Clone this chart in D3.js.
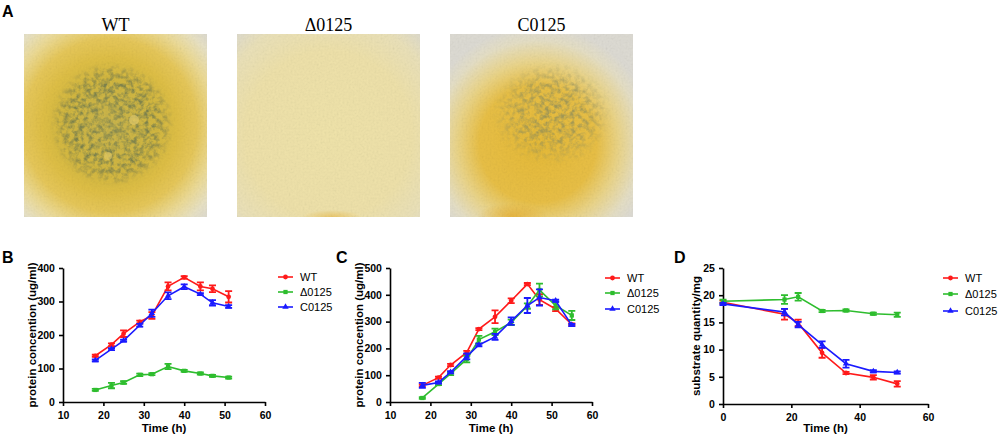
<!DOCTYPE html>
<html>
<head>
<meta charset="utf-8">
<script src="https://cdn.jsdelivr.net/npm/d3@7"></script>
<style>
  body { margin: 0; background: #fff; }
  svg { display: block; }
</style>
</head>
<body>
<script>
const width = 1000, height = 439;

// ---- data ----
const strains = ["WT", "\u03940125", "C0125"];
const colors = ["#ff1a1a", "#2ebd2e", "#1a1aff"];

// panel B
const timeB = [18, 22, 25, 29, 32, 36, 40, 44, 47, 51];
const wtB  = [138, 171, 204, 239, 258, 345, 372, 345, 338, 314];
const wtBErr = [3, 4, 10, 4, 10, 12, 4, 12, 10, 17];
const delB = [36, 49, 58, 81, 83, 106, 93, 85, 78, 73];
const delBErr = [3, 8, 4, 4, 3, 8, 3, 3, 3, 3];
const cB   = [124, 158, 183, 229, 265, 317, 344, 322, 296, 285];
const cBErr = [3, 3, 3, 4, 11, 10, 7, 3, 8, 4];

// panel C
const timeC = [18, 22, 25, 29, 32, 36, 40, 44, 47, 51, 55];
const wtC  = [62, 91, 138, 185, 272, 318, 378, 440, 382, 347, 289];
const wtCErr = [4, 4, 4, 6, 4, 24, 9, 4, 20, 8, 4];
const delC = [15, 67, 106, 160, 233, 262, 297, 358, 418, 360, 323];
const delCErr = [3, 4, 6, 12, 14, 12, 10, 10, 24, 14, 17];
const cC   = [62, 73, 111, 170, 213, 243, 302, 360, 390, 378, 287];
const cCErr = [9, 4, 4, 11, 5, 11, 14, 28, 30, 4, 4];

// panel D
const timeD = [0, 18, 22, 29, 36, 44, 51];
const wtD  = [18.7, 16.5, 14.9, 9.4, 5.7, 4.9, 3.7];
const wtDErr = [0.3, 1.0, 0.6, 0.9, 0.2, 0.4, 0.5];
const delD = [18.9, 19.2, 19.7, 17.1, 17.2, 16.6, 16.4];
const delDErr = [0.3, 0.8, 0.7, 0.2, 0.2, 0.2, 0.4];
const cD   = [18.4, 16.9, 14.6, 10.9, 7.4, 6.0, 5.8];
const cDErr = [0.2, 0.6, 0.5, 0.6, 0.7, 0.2, 0.2];

const svg = d3.select("body").append("svg")
    .attr("width", width).attr("height", height)
    .attr("viewBox", [0, 0, width, height]);

const defs = svg.append("defs");

// ---- panel A: the three plate photos, painted with gradients + noise ----
function radial(id, cx, cy, r, stops) {
  const g = defs.append("radialGradient").attr("id", id)
      .attr("cx", cx).attr("cy", cy).attr("r", r);
  stops.forEach(s => g.append("stop").attr("offset", s[0]).attr("stop-color", s[1])
      .attr("stop-opacity", s[2] == null ? 1 : s[2]));
}

radial("gWT", "47%", "50%", "74%", [
  [0, "#c9b54c"], [0.35, "#d3b840"], [0.5, "#e0c046"], [0.64, "#e7c85a"],
  [0.78, "#eddc98"], [0.9, "#e9e3c6"], [1, "#dcdad2"]]);
radial("gDel", "50%", "55%", "75%", [
  [0, "#f0e4aa"], [0.6, "#efe2aa"], [0.85, "#ebe2ba"], [1, "#dfdcce"]]);
radial("gC", "48%", "60%", "64%", [
  [0, "#e7bb38"], [0.5, "#e9c046"], [0.7, "#ebd68c"], [0.88, "#e6e0c6"], [1, "#dedcd4"]]);
radial("gDarkWT", "50%", "50%", "50%", [
  [0, "#7a8252", 0.75], [0.65, "#6f7a4e", 0.85], [0.85, "#767a4c", 0.5], [1, "#767a4c", 0]]);
radial("gDarkC", "50%", "50%", "50%", [
  [0, "#7b8462", 0.7], [0.6, "#7b8462", 0.5], [1, "#7b8462", 0]]);
radial("gSpot", "50%", "50%", "50%", [
  [0, "#e6a820", 0.9], [1, "#e6a820", 0]]);

const speckle = defs.append("filter").attr("id", "speckle")
    .attr("x", 0).attr("y", 0).attr("width", 1).attr("height", 1);
speckle.append("feTurbulence").attr("type", "fractalNoise")
    .attr("baseFrequency", 0.2).attr("numOctaves", 3).attr("seed", 5).attr("result", "n");
speckle.append("feColorMatrix").attr("in", "n").attr("type", "matrix")
    .attr("values", "0 0 0 0 0  0 0 0 0 0  0 0 0 0 0  2.6 0 0 0 -1.0").attr("result", "m");
speckle.append("feComposite").attr("in", "SourceGraphic").attr("in2", "m").attr("operator", "in");

const grain = defs.append("filter").attr("id", "grain")
    .attr("x", 0).attr("y", 0).attr("width", 1).attr("height", 1);
grain.append("feTurbulence").attr("type", "fractalNoise")
    .attr("baseFrequency", 0.5).attr("numOctaves", 2).attr("seed", 2);
grain.append("feColorMatrix").attr("type", "saturate").attr("values", 0);

const photoLabels = ["WT", "\u03940125", "C0125"];
const photoX = [24, 237, 450];
const photoFill = ["gWT", "gDel", "gC"];
const photoSize = 183, photoY = 34;

photoX.forEach((px, i) => {
  const g = svg.append("g").attr("transform", `translate(${px},${photoY})`);
  const clipId = "clip" + i;
  defs.append("clipPath").attr("id", clipId)
    .append("rect").attr("width", photoSize).attr("height", photoSize);
  const inner = g.append("g").attr("clip-path", `url(#${clipId})`);
  inner.append("rect").attr("width", photoSize).attr("height", photoSize)
      .attr("fill", `url(#${photoFill[i]})`);
  if (i === 0) {
    inner.append("ellipse").attr("cx", 88).attr("cy", 90).attr("rx", 62).attr("ry", 62)
        .attr("fill", "url(#gDarkWT)").attr("filter", "url(#speckle)");
    inner.append("circle").attr("cx", 110).attr("cy", 86).attr("r", 5).attr("fill", "#e8cf6a").attr("opacity", 0.7);
    inner.append("circle").attr("cx", 84).attr("cy", 122).attr("r", 4).attr("fill", "#e8cf6a").attr("opacity", 0.6);
  } else if (i === 1) {
    inner.append("ellipse").attr("cx", 95).attr("cy", 183).attr("rx", 30).attr("ry", 7)
        .attr("fill", "url(#gSpot)").attr("opacity", 0.5);
  } else {
    inner.append("ellipse").attr("cx", 102).attr("cy", 80).attr("rx", 60).attr("ry", 52)
        .attr("fill", "url(#gDarkC)").attr("filter", "url(#speckle)");
    inner.append("ellipse").attr("cx", 62).attr("cy", 182).attr("rx", 35).attr("ry", 13)
        .attr("fill", "url(#gSpot)").attr("opacity", 0.7);
  }
  inner.append("rect").attr("width", photoSize).attr("height", photoSize)
      .attr("filter", "url(#grain)").attr("opacity", 0.16)
      .style("mix-blend-mode", "multiply");

  svg.append("text").attr("x", px + photoSize / 2).attr("y", 31)
      .attr("text-anchor", "middle")
      .style("font-family", "'Liberation Serif', 'DejaVu Serif', serif")
      .style("font-size", "18px")
      .text(photoLabels[i]);
});

function panelLetter(t, x, y) {
  svg.append("text").attr("x", x).attr("y", y)
      .style("font-family", "'Liberation Sans', Arial, sans-serif")
      .style("font-weight", "bold").style("font-size", "16px")
      .text(t);
}
panelLetter("A", 2, 17);
panelLetter("B", 2, 263);
panelLetter("C", 336, 263);
panelLetter("D", 674, 263);

// ---- line panels B, C, D ----
function drawPanel(o) {
  const x = d3.scaleLinear().domain(o.xDomain).range(o.xRange);
  const y = d3.scaleLinear().domain(o.yDomain).range(o.yRange);
  const g = svg.append("g");

  const xAxis = g.append("g").attr("transform", `translate(0,${o.yRange[0]})`)
      .call(d3.axisBottom(x).tickValues(o.xTicks).tickSize(4).tickSizeOuter(0));
  const yAxis = g.append("g").attr("transform", `translate(${o.xRange[0]},0)`)
      .call(d3.axisLeft(y).tickValues(o.yTicks).tickSize(4).tickSizeOuter(0));
  [xAxis, yAxis].forEach(a => {
    a.selectAll("path, line").attr("stroke", "#000").attr("stroke-width", 1.6);
    a.selectAll("text").attr("fill", "#000")
        .style("font-family", "'Liberation Sans', Arial, sans-serif")
        .style("font-weight", "bold").style("font-size", "10.5px");
  });
  xAxis.selectAll("text").attr("dy", "0.95em");
  yAxis.selectAll("text").attr("dx", "-0.1em");

  g.append("text")
      .attr("x", (o.xRange[0] + o.xRange[1]) / 2).attr("y", 432)
      .attr("text-anchor", "middle")
      .style("font-family", "'Liberation Sans', Arial, sans-serif")
      .style("font-weight", "bold").style("font-size", "11.5px")
      .text("Time (h)");
  g.append("text")
      .attr("transform", `translate(${o.yTitleX},${(o.yRange[0] + o.yRange[1]) / 2}) rotate(-90)`)
      .attr("text-anchor", "middle")
      .style("font-family", "'Liberation Sans', Arial, sans-serif")
      .style("font-weight", "bold").style("font-size", "11.5px")
      .text(o.yTitle);

  const line = d3.line().x(d => x(d.t)).y(d => y(d.v));
  const symbols = [d3.symbolCircle, d3.symbolSquare, d3.symbolTriangle];

  o.series.forEach((s, i) => {
    const pts = o.time.map((t, k) => ({t, v: s.values[k], e: s.err[k]}));
    const sg = g.append("g").attr("stroke", colors[i]).attr("fill", colors[i]);
    sg.append("path").datum(pts).attr("d", line).attr("fill", "none").attr("stroke-width", 1.6);
    sg.selectAll(".eb").data(pts).enter().append("path")
        .attr("stroke-width", 1.8).attr("fill", "none")
        .attr("d", d => {
          const xx = x(d.t), y0 = y(d.v - d.e), y1 = y(d.v + d.e);
          return `M${xx},${y0}V${y1}M${xx - 3.5},${y0}H${xx + 3.5}M${xx - 3.5},${y1}H${xx + 3.5}`;
        });
    sg.selectAll(".pt").data(pts).enter().append("path")
        .attr("stroke", "none")
        .attr("transform", d => `translate(${x(d.t)},${y(d.v)})`)
        .attr("d", d3.symbol().type(symbols[i]).size(18));

    // legend
    const ly = o.legend.y[i];
    const lg = g.append("g");
    lg.append("line").attr("x1", o.legend.x).attr("x2", o.legend.x + 15)
        .attr("y1", ly).attr("y2", ly).attr("stroke", colors[i]).attr("stroke-width", 1.6);
    lg.append("path").attr("transform", `translate(${o.legend.x + 7.5},${ly})`)
        .attr("d", d3.symbol().type(symbols[i]).size(18)).attr("fill", colors[i]);
    lg.append("text").attr("x", o.legend.x + 22).attr("y", ly).attr("dy", "0.36em")
        .style("font-family", "'Liberation Sans', Arial, sans-serif")
        .style("font-size", "11px")
        .text(strains[i]);
  });
}

drawPanel({
  xDomain: [10, 60], xRange: [63, 265], xTicks: [10, 20, 30, 40, 50, 60],
  yDomain: [0, 400], yRange: [402, 268], yTicks: [0, 100, 200, 300, 400],
  yTitle: "protein concention (ug/ml)", yTitleX: 36,
  time: timeB,
  series: [{values: wtB, err: wtBErr}, {values: delB, err: delBErr}, {values: cB, err: cBErr}],
  legend: {x: 278, y: [277, 292, 307]}
});

drawPanel({
  xDomain: [10, 60], xRange: [390, 592], xTicks: [10, 20, 30, 40, 50, 60],
  yDomain: [0, 500], yRange: [402, 268], yTicks: [0, 100, 200, 300, 400, 500],
  yTitle: "protein concention (ug/ml)", yTitleX: 363,
  time: timeC,
  series: [{values: wtC, err: wtCErr}, {values: delC, err: delCErr}, {values: cC, err: cCErr}],
  legend: {x: 605, y: [278, 293, 309]}
});

drawPanel({
  xDomain: [0, 60], xRange: [723, 928], xTicks: [0, 20, 40, 60],
  yDomain: [0, 25], yRange: [404, 268], yTicks: [0, 5, 10, 15, 20, 25],
  yTitle: "substrate quantity/mg", yTitleX: 700,
  time: timeD,
  series: [{values: wtD, err: wtDErr}, {values: delD, err: delDErr}, {values: cD, err: cDErr}],
  legend: {x: 943, y: [278, 294, 311]}
});
</script>
</body>
</html>
